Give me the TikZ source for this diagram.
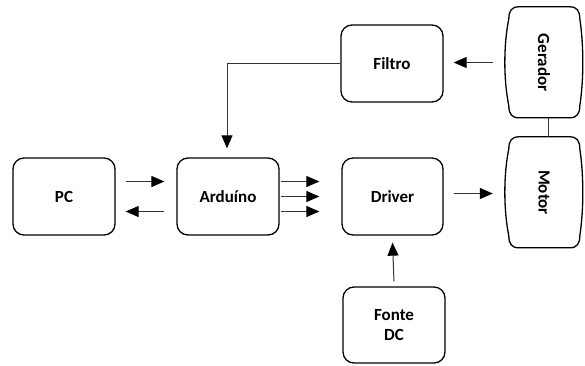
\documentclass[tikz,border=0pt]{standalone}
\usepackage{fontspec}
\setmainfont{Carlito}
\usetikzlibrary{arrows.meta,calc}
\begin{document}
\begin{tikzpicture}[x=1pt,y=-1pt,
  blk/.style={draw, line width=1.3pt, rounded corners=11pt, minimum width=102pt,
    minimum height=77pt, font=\fontsize{17}{20}\selectfont\bfseries, align=center, inner sep=0pt},
  bulgebox/.style={draw=none, minimum width=78pt, minimum height=111pt,
    font=\fontsize{17}{20}\selectfont\bfseries, inner sep=0pt},
  outl/.style={line width=1.3pt},
  arr/.style={line width=1pt, draw=black!80, -{Triangle[length=13pt,width=11pt,color=black]}},
  link/.style={line width=1pt, draw=black!80}
]
\useasboundingbox (0,0) rectangle (585,365);

\node[blk] (pc)  at (64,196.5)  {PC};
\node[blk] (ard) at (228,196.5) {Arduíno};
\node[blk, minimum width=101pt] (drv) at (392.5,196.5) {Driver};
\node[blk] (fil) at (392,63.5)  {Filtro};
\node[blk, minimum height=76pt] (fon) at (394,325) {Fonte\\DC};
\node[bulgebox] (ger) at (544,62.5)  {\rotatebox{-90}{Gerador}};
\node[bulgebox] (mot) at (544,192.5) {\rotatebox{-90}{Motor}};

\foreach \n in {ger,mot}{
  \draw[outl, shift={(\n.north west)}]
    (14,0) -- (65,0) .. controls (72,0) and (75,4) .. (75,12)
    .. controls (79,38) and (79,73) .. (75,99)
    .. controls (75,107) and (72,111) .. (65,111) -- (14,111)
    .. controls (7,111) and (4,107) .. (4,99)
    .. controls (-1.3,73) and (-1.3,38) .. (4,12)
    .. controls (4,4) and (7,0) .. (14,0) -- cycle;
}

% connectors
\draw[link] ([xshift=4pt]ger.south) -- ([xshift=4pt]mot.north);
\draw[arr] ([xshift=10pt,yshift=15pt]pc.east) -- ([xshift=-12pt,yshift=15pt]ard.west);
\draw[arr] ([xshift=-12pt,yshift=-15pt]ard.west) -- ([xshift=10pt,yshift=-15pt]pc.east);
\foreach \s in {15,0,-15}{
  \draw[arr] ([xshift=1pt,yshift=\s pt]ard.east) -- ([xshift=-22pt,yshift=\s pt]drv.west);
}
\draw[arr] ([xshift=10pt,yshift=3pt]drv.east) -- ([xshift=-12pt,yshift=3pt]drv.east -| mot.west);
\draw[arr] ([yshift=5pt]fon.north) -- ([yshift=-7pt]drv.south);
\draw[arr] ([xshift=-12pt]ger.west) -- ([xshift=10pt]fil.east |- ger.west);
\draw[arr, shorten >=9pt] (fil.west) -| ([xshift=-1pt]ard.north);
\end{tikzpicture}
\end{document}
